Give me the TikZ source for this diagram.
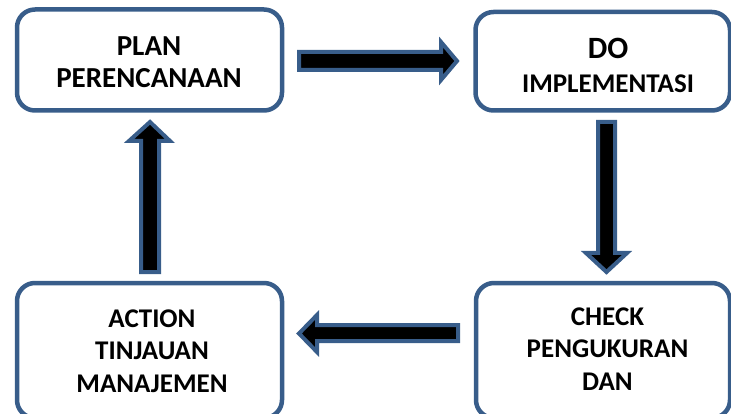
\documentclass[tikz,border=0pt]{standalone}
\usepackage{fontspec}
\setmainfont{Carlito}
\definecolor{pdcaBlue}{HTML}{385D8A}
\begin{document}
\begin{tikzpicture}[x=1pt,y=-1pt,
  stage/.style={draw=pdcaBlue, line width=4.5pt, rounded corners=18pt,
    rectangle, inner sep=0pt, outer sep=0pt},
  stagetext/.style={align=center, font=\bfseries\fontsize{27}{32.5}\selectfont,
    inner sep=0pt},
  blockarrow/.style={draw=pdcaBlue, fill=black, line width=4pt, line join=miter}
]
\useasboundingbox (0,0) rectangle (731,414);
\clip (0,0) rectangle (731,414);

% the four PDCA stages
\node[stage, minimum width=265pt, minimum height=101pt] (plan) at (149.5,60) {};
\node[stage, minimum width=254.5pt, minimum height=98.5pt] (do) at (602.75,61.25) {};
\node[stage, minimum width=265pt, minimum height=135pt] (action) at (149.5,350.5) {};
\node[stage, minimum width=254pt, minimum height=135pt] (check) at (603,350.5) {};

\node[stagetext, font=\bfseries\fontsize{29}{32}\selectfont] (plantext) at (149,62) {PLAN\\PERENCANAAN};
\node[stagetext, font=\bfseries\fontsize{27}{34}\selectfont] (dotext) at (608,65.2) {{\fontsize{31}{34}\selectfont DO}\\IMPLEMENTASI};
\node[stagetext] (actiontext) at (152,351) {ACTION\\TINJAUAN\\MANAJEMEN};
\node[stagetext] (checktext) at (607.5,349) {CHECK\\PENGUKURAN\\DAN};

% block arrows of the cycle
\draw[blockarrow] (299,52) -- (441,52) -- (441,42) -- (457,61) -- (441,80) -- (441,70) -- (299,70) -- cycle;
\draw[blockarrow] (598,122) -- (615,122) -- (615,253) -- (627,253) -- (606.5,272) -- (586,253) -- (598,253) -- cycle;
\draw[blockarrow] (458,325) -- (317,325) -- (317,315) -- (299,333.5) -- (317,352) -- (317,341) -- (458,341) -- cycle;
\draw[blockarrow] (141,272) -- (159,272) -- (159,141) -- (170,141) -- (150,122) -- (129,141) -- (141,141) -- cycle;
\end{tikzpicture}
\end{document}
